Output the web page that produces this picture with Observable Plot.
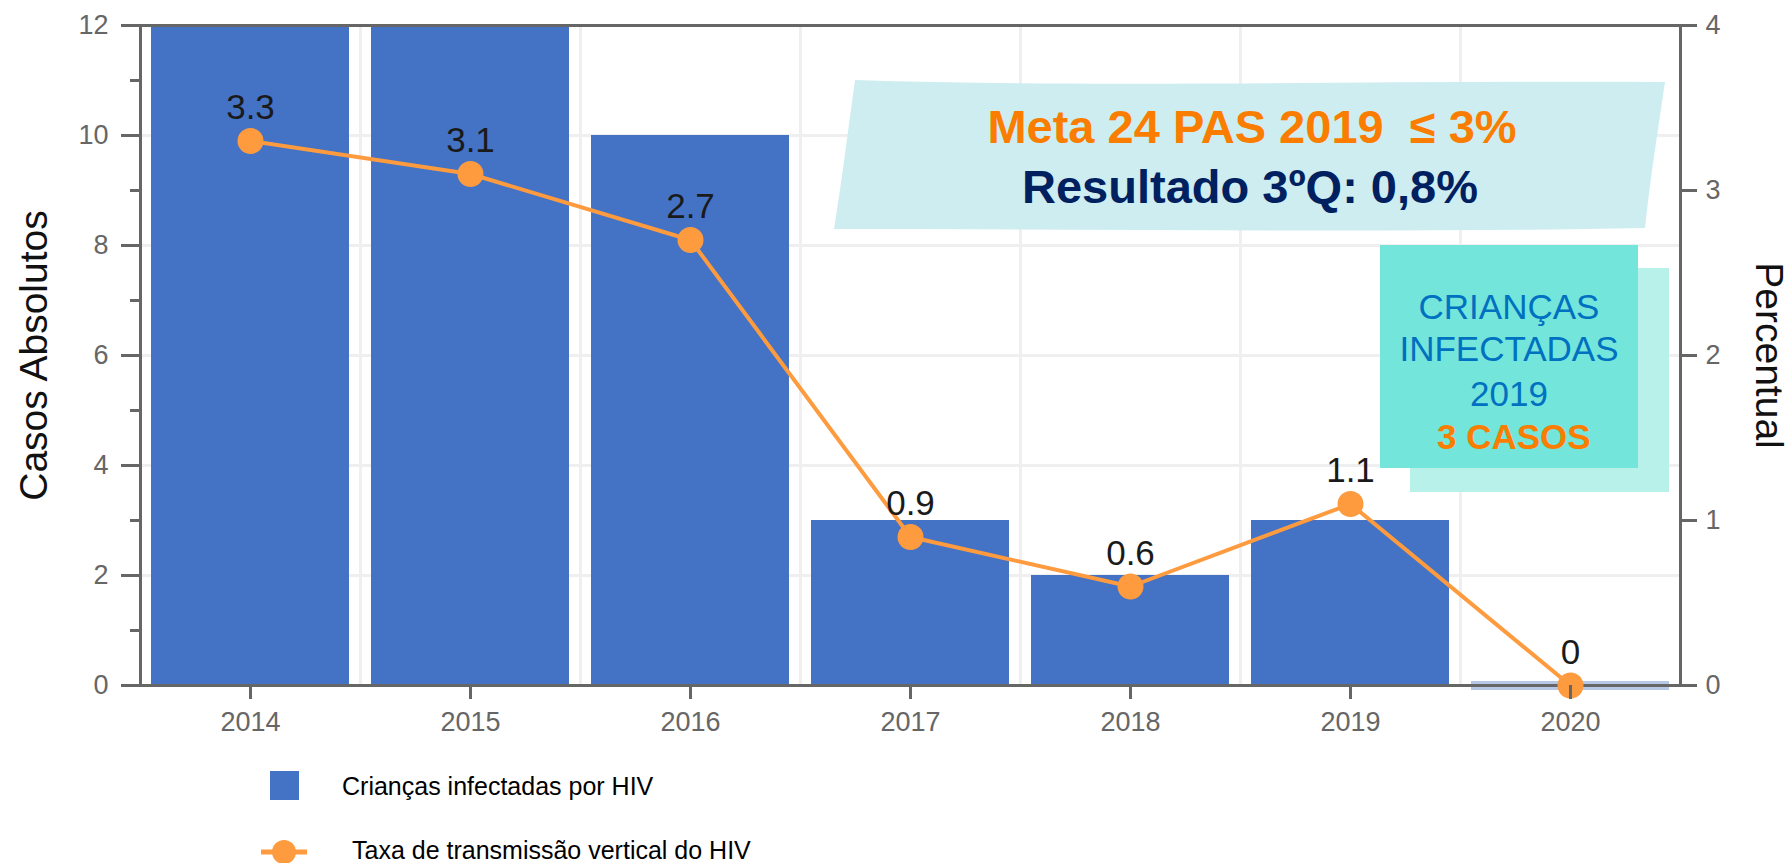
<!DOCTYPE html>
<html>
<head>
<meta charset="utf-8">
<script src="https://cdn.jsdelivr.net/npm/d3@7"></script>
<script src="https://cdn.jsdelivr.net/npm/@observablehq/plot@0.6"></script>
<style>
  html, body { margin: 0; padding: 0; background: #fff; overflow: hidden; }
  #wrap { position: relative; width: 1788px; height: 863px; font-family: "Liberation Sans", Arial, sans-serif; }
  #chart { position: absolute; left: 0; top: 0; }
  #overlay { position: absolute; left: 0; top: 0; pointer-events: none; }
  #overlay text { font-family: "Liberation Sans", Arial, sans-serif; white-space: pre; }
</style>
</head>
<body>
<div id="wrap">
  <div id="chart"></div>
  <svg id="overlay" width="1788" height="863" xmlns="http://www.w3.org/2000/svg"></svg>
</div>
<script>
// ---- data ----
const years = ["2014", "2015", "2016", "2017", "2018", "2019", "2020"];
const cases = [12, 12, 10, 3, 2, 3, 0];          // Crianças infectadas por HIV (left axis)
const rates = [3.3, 3.1, 2.7, 0.9, 0.6, 1.1, 0]; // Taxa de transmissão vertical (%) (right axis)
const leftTicks = [0, 2, 4, 6, 8, 10, 12];
const leftMinorTicks = [1, 3, 5, 7, 9, 11];
const leftGrid = [2, 4, 6, 8, 10];
const rightTicks = [0, 1, 2, 3, 4];
const leftMax = 12, rightMax = 4;
const seriesNames = ["Crianças infectadas por HIV", "Taxa de transmissão vertical do HIV"];

// ---- styles ----
const blue = "#4472C4";
const orange = "#FE9B3E";
const axisColor = "#666666";
const gridColor = "#efefef";
const font = "'Liberation Sans', Arial, sans-serif";

const k = leftMax / rightMax; // map right-axis values onto the left scale
const data = years.map((y, i) => ({ year: y, cases: cases[i], rate: rates[i] }));

const W = 1788, H = 740;
const mL = 140, mR = 108, mT = 25, mB = 55;
const pInner = 0.1, pOuter = 0.05;
const step = (W - mL - mR) / (years.length - pInner + 2 * pOuter);

const chart = Plot.plot({
  width: W, height: H,
  marginLeft: mL, marginRight: mR, marginTop: mT, marginBottom: mB,
  style: { fontFamily: font, background: "white", overflow: "visible" },
  x: { domain: years, paddingInner: pInner, paddingOuter: pOuter, axis: null },
  y: { domain: [0, leftMax], axis: null },
  marks: [
    Plot.ruleY(leftGrid, { stroke: gridColor, strokeWidth: 3 }),
    Plot.ruleX(years.slice(1), { x: d => d, dx: -step / 2, stroke: gridColor, strokeWidth: 3 }),
    Plot.barY(data.filter(d => d.cases > 0), { x: "year", y: "cases", fill: blue }),
    Plot.tickY(data.filter(d => d.cases === 0), { x: "year", y: "cases", stroke: "#B7C7E6", strokeWidth: 9 }),
    Plot.frame({ stroke: axisColor, strokeWidth: 3 }),
    Plot.line(data, { x: "year", y: d => d.rate * k, stroke: orange, strokeWidth: 4 }),
    Plot.dot(data, { x: "year", y: d => d.rate * k, r: 13, fill: orange, stroke: "none" }),
    Plot.text(data, { x: "year", y: d => d.rate * k, text: d => String(d.rate), dy: -33, fontSize: 35, fill: "#1a1a1a" }),
    // left axis
    Plot.axisY(leftTicks, { anchor: "left", tickSize: 19, tickPadding: 13, tickFormat: v => String(v), fontSize: 27, fill: axisColor, stroke: axisColor, strokeWidth: 3, label: null }),
    Plot.axisY(leftMinorTicks, { anchor: "left", tickSize: 10, tickFormat: () => "", stroke: axisColor, strokeWidth: 3, label: null }),
    // right axis (percent)
    Plot.axisY(rightTicks.map(v => v * k), { anchor: "right", tickSize: 16, tickPadding: 9, tickFormat: v => String(v / k), fontSize: 27, fill: axisColor, stroke: axisColor, strokeWidth: 3, label: null }),
    // x axis
    Plot.axisX({ anchor: "bottom", tickSize: 14, tickPadding: 12, fontSize: 27, fill: axisColor, stroke: axisColor, strokeWidth: 3, label: null }),
    // axis titles
    Plot.text(["Casos Absolutos"], { text: d => d, frameAnchor: "left", textAnchor: "middle", dx: -106, rotate: -90, fontSize: 39, fill: "#111" }),
    Plot.text(["Percentual"], { text: d => d, frameAnchor: "right", textAnchor: "middle", dx: 88, rotate: 90, fontSize: 39, fill: "#111" })
  ]
});
document.getElementById("chart").appendChild(chart);

// ---- overlay: annotation boxes and legend ----
const ov = d3.select("#overlay");

// big wavy box
ov.append("path")
  .attr("d", "M855,80 C1100,88 1400,80 1665,82 C1658,130 1650,180 1645,228 C1400,233 1100,229 834,229 C842,180 848,130 855,80 Z")
  .attr("fill", "#CEEDF1");
ov.append("text").attr("x", 1252).attr("y", 143).attr("text-anchor", "middle")
  .attr("font-size", 47).attr("font-weight", "bold").attr("fill", "#FA7D00")
  .text("Meta 24 PAS 2019  ≤ 3%");
ov.append("text").attr("x", 1250).attr("y", 203).attr("text-anchor", "middle")
  .attr("font-size", 47).attr("font-weight", "bold").attr("fill", "#002060")
  .text("Resultado 3ºQ: 0,8%");

// teal boxes
ov.append("rect").attr("x", 1410).attr("y", 268).attr("width", 259).attr("height", 224).attr("fill", "#B8F1E9");
ov.append("rect").attr("x", 1380).attr("y", 245).attr("width", 258).attr("height", 223).attr("fill", "#74E5DA");
const boxLines = [["CRIANÇAS", 319, "#0070C0", "normal"], ["INFECTADAS", 361, "#0070C0", "normal"], ["2019", 406, "#0070C0", "normal"], [" 3 CASOS", 449, "#FA7D00", "bold"]];
boxLines.forEach(([t, y, c, w]) => {
  ov.append("text").attr("x", 1509).attr("y", y).attr("text-anchor", "middle")
    .attr("font-size", 35).attr("font-weight", w).attr("fill", c).text(t);
});

// legend
ov.append("rect").attr("x", 270).attr("y", 771).attr("width", 29).attr("height", 29).attr("fill", blue);
ov.append("text").attr("x", 342).attr("y", 795).attr("font-size", 25).attr("fill", "#000").text(seriesNames[0]);
ov.append("line").attr("x1", 261).attr("x2", 307).attr("y1", 852).attr("y2", 852).attr("stroke", orange).attr("stroke-width", 5);
ov.append("circle").attr("cx", 284).attr("cy", 852).attr("r", 12).attr("fill", orange);
ov.append("text").attr("x", 352).attr("y", 859).attr("font-size", 25).attr("fill", "#000").text(seriesNames[1]);
</script>
</body>
</html>
